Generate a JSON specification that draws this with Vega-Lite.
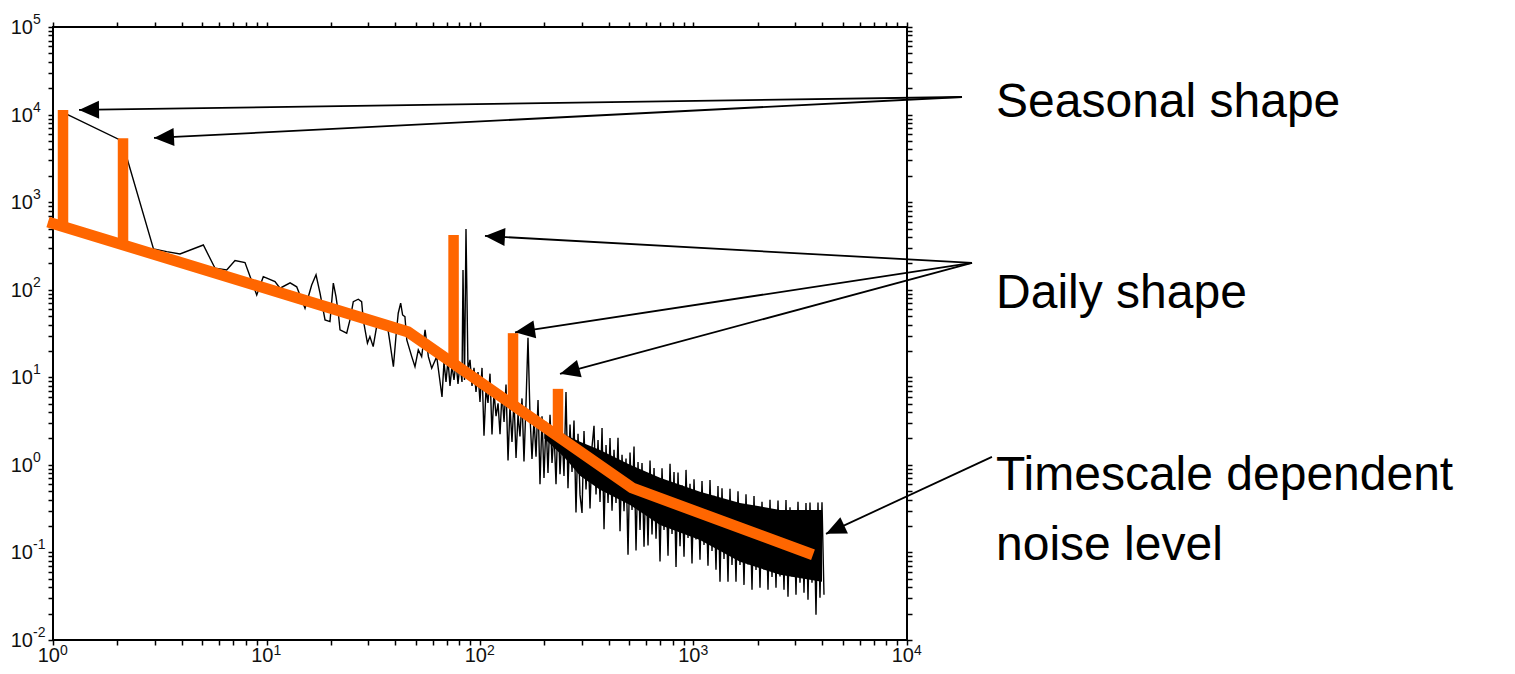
{
  "$schema": "https://vega.github.io/schema/vega-lite/v6.json",
  "width": 854,
  "height": 613,
  "autosize": {"type": "none"},
  "padding": {"left": 53, "top": 27, "right": 608, "bottom": 34},
  "background": "white",
  "config": {
    "view": {"stroke": "black", "strokeWidth": 2},
    "axis": {"labels": false, "domain": false, "grid": false, "title": null, "tickColor": "black", "tickWidth": 1.5}
  },
  "resolve": {"axis": {"x": "independent", "y": "independent"}},
  "datasets": {
    "spec": [
      {"x":1.126,"y":10430},{"x":2.105,"y":5000},{"x":2.956,"y":292},{"x":3.409,"y":272},{"x":3.934,"y":256},
      {"x":5.06,"y":324},{"x":5.74,"y":176},{"x":6.51,"y":168},{"x":7.12,"y":215},{"x":7.93,"y":204},
      {"x":9.0,"y":87.3},{"x":9.66,"y":141},{"x":10.96,"y":124},{"x":11.57,"y":104},{"x":12.9,"y":120},
      {"x":13.85,"y":108},{"x":15.15,"y":61.5},{"x":16.28,"y":113},{"x":17.06,"y":148},{"x":17.81,"y":91.2},
      {"x":18.8,"y":45.2},{"x":19.83,"y":43.2},{"x":20.56,"y":119},{"x":21.16,"y":83.4},{"x":21.7,"y":53.9},
      {"x":22.1,"y":34.8},{"x":23.75,"y":31.9},{"x":24.6,"y":45.2},{"x":25.5,"y":73.1},{"x":26.9,"y":77.9},
      {"x":27.9,"y":73.1},{"x":28.4,"y":45.2},{"x":29.7,"y":24.5},{"x":30.5,"y":29.2},{"x":31.6,"y":22.4},
      {"x":32.8,"y":37.9},{"x":34.0,"y":43.2},{"x":36.6,"y":43.2},{"x":37.9,"y":24.5},{"x":39.3,"y":13.2},
      {"x":40.4,"y":29.2},{"x":41.4,"y":53.9},{"x":42.5,"y":70.2},{"x":43.4,"y":51.5},{"x":44.5,"y":49.3},
      {"x":45.4,"y":26.7},{"x":47.9,"y":17.2},{"x":49.6,"y":13.2},{"x":51.4,"y":20.5},{"x":53.3,"y":17.2},
      {"x":55.3,"y":34.8},{"x":57.3,"y":17.2},{"x":59.4,"y":12.7},{"x":62.7,"y":17.2},{"x":64.5,"y":10.2},
      {"x":66.38,"y":5.97},{"x":67.82,"y":15.0},{"x":69.3,"y":8.86},{"x":70.81,"y":15.8},{"x":72.36,"y":7.98},
      {"x":73.93,"y":13.5},{"x":75.55,"y":9.34},{"x":77.19,"y":15.0},{"x":78.88,"y":8.41},{"x":80.6,"y":14.2},
      {"x":82.36,"y":8.86},{"x":83.25,"y":168},{"x":84.6,"y":9.34},{"x":85.98,"y":494},{"x":87.86,"y":12.1},
      {"x":89.78,"y":15.8},{"x":91.74,"y":7.98},{"x":93.73,"y":12.8},{"x":95.78,"y":6.81},{"x":97.87,"y":11.5},
      {"x":100,"y":5.24},{"x":102.2,"y":12.8},{"x":104.4,"y":2.15},{"x":106.7,"y":7.37},{"x":109.0,"y":5.1},
      {"x":111.4,"y":11.0},{"x":113.8,"y":2.23},{"x":116.3,"y":6.81},{"x":118.9,"y":3.59},{"x":121.5,"y":5.04},
      {"x":124.1,"y":2.24},{"x":126.8,"y":6.69},{"x":129.6,"y":3.09},{"x":132.4,"y":8.28},{"x":135.3,"y":1.12},
      {"x":138.2,"y":4.72},{"x":141.2,"y":1.83},{"x":144.3,"y":5.66},{"x":147.5,"y":1.2},{"x":150.7,"y":3.81},
      {"x":153.9,"y":2.11},{"x":157.3,"y":5.74},{"x":160.7,"y":1.09},{"x":164.2,"y":4.96},{"x":167.8,"y":28.2},
      {"x":171.5,"y":3.63},{"x":175.2,"y":1.17},{"x":179.1,"y":3.35},{"x":183.0,"y":1.24},{"x":187.0,"y":5.5},
      {"x":191.0,"y":0.6},{"x":195.2,"y":3.59},{"x":199.4,"y":0.708},{"x":203.8,"y":3.1},{"x":208.2,"y":0.81},
      {"x":212.8,"y":3.72},{"x":217.4,"y":1.05},{"x":222.2,"y":2.38},{"x":227.0,"y":0.6},{"x":232.0,"y":3.64},
      {"x":237.0,"y":0.78},{"x":242.2,"y":2.38},{"x":247.4,"y":0.745},{"x":252.8,"y":6.81},{"x":258.3,"y":0.54},
      {"x":264.0,"y":2.89},{"x":269.8,"y":0.83},{"x":275.6,"y":3.21},{"x":281.6,"y":0.285},{"x":287.8,"y":2.26},
      {"x":294.1,"y":0.454},{"x":300.5,"y":0.283},{"x":307.0,"y":2.44},{"x":313.7,"y":0.525},{"x":320.6,"y":1.64},
      {"x":327.6,"y":0.318},{"x":334.7,"y":1.6},{"x":342.0,"y":2.79},{"x":349.5,"y":0.458},{"x":357.1,"y":1.92},
      {"x":364.9,"y":0.378},{"x":372.9,"y":2.64},{"x":381.0,"y":0.184},{"x":389.3,"y":1.69},{"x":397.8,"y":0.366},
      {"x":406.4,"y":2.03},{"x":415.3,"y":0.3},{"x":424.3,"y":1.49},{"x":433.6,"y":0.367},{"x":443.0,"y":2.04},
      {"x":452.7,"y":0.175},{"x":462.6,"y":1.3},{"x":472.6,"y":0.296},{"x":482.9,"y":1.18},{"x":493.5,"y":0.094},
      {"x":504.3,"y":1.38},{"x":515.3,"y":0.306},{"x":526.5,"y":1.62},{"x":538.0,"y":0.105},{"x":549.7,"y":1.08},
      {"x":561.7,"y":0.181},{"x":573.9,"y":1.05},{"x":586.5,"y":0.116},{"x":599.2,"y":0.83},{"x":612.3,"y":0.12},
      {"x":625.7,"y":1.12},{"x":639.3,"y":0.16},{"x":653.3,"y":0.92},{"x":667.5,"y":0.143},{"x":682.1,"y":0.71},
      {"x":696.9,"y":0.079},{"x":712.1,"y":0.915},{"x":727.6,"y":0.181},{"x":743.5,"y":0.6},{"x":759.7,"y":0.0915},
      {"x":776.3,"y":1.03},{"x":793.2,"y":0.162},{"x":810.5,"y":0.83},{"x":828.2,"y":0.068},{"x":846.2,"y":0.82},
      {"x":864.7,"y":0.118},{"x":883.5,"y":0.584},{"x":902.8,"y":0.0891},{"x":922.5,"y":0.876},{"x":942.6,"y":0.146},
      {"x":963.0,"y":0.608},{"x":984.0,"y":0.075},{"x":1005.5,"y":0.685},{"x":1027.4,"y":0.141},{"x":1049.8,"y":0.489},
      {"x":1072.6,"y":0.0824},{"x":1096.0,"y":0.655},{"x":1119.9,"y":0.122},{"x":1144.3,"y":0.449},{"x":1169.2,"y":0.0703},
      {"x":1194.8,"y":0.673},{"x":1220.8,"y":0.104},{"x":1247.4,"y":0.443},{"x":1274.6,"y":0.0633},{"x":1302.4,"y":0.575},
      {"x":1330.8,"y":0.0462},{"x":1359.8,"y":0.539},{"x":1389.5,"y":0.084},{"x":1419.7,"y":0.386},{"x":1450.7,"y":0.0462},
      {"x":1482.4,"y":0.532},{"x":1514.7,"y":0.072},{"x":1547.7,"y":0.358},{"x":1581.5,"y":0.0462},{"x":1616.0,"y":0.5},
      {"x":1651.2,"y":0.0718},{"x":1687.2,"y":0.321},{"x":1724.0,"y":0.0426},{"x":1761.6,"y":0.462},{"x":1800.0,"y":0.073},
      {"x":1839.3,"y":0.313},{"x":1879.4,"y":0.0374},{"x":1920.4,"y":0.44},{"x":1962.3,"y":0.063},{"x":2005.1,"y":0.314},
      {"x":2048.7,"y":0.0394},{"x":2093.4,"y":0.38},{"x":2139.1,"y":0.064},{"x":2185.7,"y":0.299},{"x":2233.4,"y":0.0374},
      {"x":2282.0,"y":0.4},{"x":2331.8,"y":0.0525},{"x":2382.6,"y":0.307},{"x":2434.6,"y":0.0394},{"x":2487.7,"y":0.391},
      {"x":2541.8,"y":0.0533},{"x":2597.2,"y":0.275},{"x":2653.9,"y":0.0374},{"x":2711.7,"y":0.398},{"x":2770.8,"y":0.0311},
      {"x":2831.2,"y":0.328},{"x":2892.9,"y":0.053},{"x":2956.0,"y":0.29},{"x":3020.4,"y":0.0328},{"x":3086.3,"y":0.378},
      {"x":3153.6,"y":0.045},{"x":3222.3,"y":0.3},{"x":3292.6,"y":0.0346},{"x":3364.4,"y":0.367},{"x":3437.7,"y":0.0288},
      {"x":3512.7,"y":0.371},{"x":3589.3,"y":0.045},{"x":3667.6,"y":0.29},{"x":3747.5,"y":0.0194},{"x":3829.2,"y":0.371},
      {"x":3912.6,"y":0.0303},{"x":3998.0,"y":0.374},{"x":4085.0,"y":0.0328}
    ],
    "core": [
      {"x":200,"hi":2.4,"lo":2.0},
      {"x":250,"hi":2.2,"lo":1.2},
      {"x":294.1,"hi":1.83,"lo":0.75},
      {"x":364.9,"hi":1.48,"lo":0.518},
      {"x":504.3,"hi":1.0,"lo":0.349},
      {"x":696.9,"hi":0.711,"lo":0.206},
      {"x":1072.6,"hi":0.492,"lo":0.139},
      {"x":1651.2,"hi":0.368,"lo":0.0781},
      {"x":2541.8,"hi":0.306,"lo":0.0555},
      {"x":3998,"hi":0.306,"lo":0.0462}
    ],
    "base": [
      {"x":0.9475,"y":594},{"x":46.0,"y":33.0},{"x":515,"y":0.546},{"x":3628,"y":0.094}
    ],
    "spikes": [
      {"x":1.114,"lo":526,"hi":11290},
      {"x":2.128,"lo":325,"hi":5360},
      {"x":75.2,"lo":14.3,"hi":422},
      {"x":142.8,"lo":4.83,"hi":31.9},
      {"x":231.9,"lo":2.12,"hi":7.38}
    ],
    "arrows": [
      {"id":"s1","x":18100,"y":15880,"x2":1.324,"y2":11290},
      {"id":"s2","x":18100,"y":15880,"x2":2.972,"y2":5408},
      {"id":"d1","x":20160,"y":202.3,"x2":105.5,"y2":411},
      {"id":"d2","x":20160,"y":202.3,"x2":145.9,"y2":32.6},
      {"id":"d3","x":20160,"y":202.3,"x2":237,"y2":10.94},
      {"id":"t","x":25000,"y":1.234,"x2":4175,"y2":0.163}
    ],
    "ann": [
      {"t":"Seasonal shape","x":26120,"y":9390},
      {"t":"Daily shape","x":26120,"y":62.0},
      {"t":"Timescale dependent","x":26120,"y":0.518},
      {"t":"noise level","x":26120,"y":0.0823}
    ],
    "xlab": [
      {"v":1,"e":"0"},{"v":10,"e":"1"},{"v":100,"e":"2"},{"v":1000,"e":"3"},{"v":10000,"e":"4"}
    ],
    "ylab": [
      {"v":0.01,"e":"-2"},{"v":0.1,"e":"-1"},{"v":1,"e":"0"},{"v":10,"e":"1"},{"v":100,"e":"2"},{"v":1000,"e":"3"},{"v":10000,"e":"4"},{"v":100000,"e":"5"}
    ]
  },
  "layer": [
    {
      "data": {"name": "core"},
      "mark": {"type": "area", "color": "black", "opacity": 1},
      "encoding": {
        "x": {"field": "x", "type": "quantitative", "scale": {"type": "log", "domain": [1, 10000], "nice": false}, "axis": null},
        "y": {"field": "lo", "type": "quantitative", "scale": {"type": "log", "domain": [0.01, 100000], "nice": false}, "axis": null},
        "y2": {"field": "hi"}
      }
    },
    {
      "data": {"name": "spec"},
      "mark": {"type": "line", "color": "black", "strokeWidth": 1.4},
      "encoding": {
        "x": {"field": "x", "type": "quantitative", "scale": {"type": "log", "domain": [1, 10000], "nice": false},
          "axis": {"orient": "bottom", "values": [1,2,3,4,5,6,7,8,9,10,20,30,40,50,60,70,80,90,100,200,300,400,500,600,700,800,900,1000,2000,3000,4000,5000,6000,7000,8000,9000,10000],
            "encode": {"ticks": {"update": {"y2": {"signal": "abs(log(datum.value)/LN10 - round(log(datum.value)/LN10)) < 0.001 ? -8 : -5"}}}}}},
        "y": {"field": "y", "type": "quantitative", "scale": {"type": "log", "domain": [0.01, 100000], "nice": false},
          "axis": {"orient": "left", "values": [0.01,0.02,0.03,0.04,0.05,0.06,0.07,0.08,0.09,0.1,0.2,0.3,0.4,0.5,0.6,0.7,0.8,0.9,1,2,3,4,5,6,7,8,9,10,20,30,40,50,60,70,80,90,100,200,300,400,500,600,700,800,900,1000,2000,3000,4000,5000,6000,7000,8000,9000,10000,20000,30000,40000,50000,60000,70000,80000,90000,100000],
            "encode": {"ticks": {"update": {"x2": {"signal": "abs(log(datum.value)/LN10 - round(log(datum.value)/LN10)) < 0.001 ? 8 : 5"}}}}}}
      }
    },
    {
      "data": {"name": "base"},
      "mark": {"type": "line", "color": "#ff6600", "strokeWidth": 11, "strokeCap": "butt", "clip": false},
      "encoding": {
        "x": {"field": "x", "type": "quantitative", "scale": {"type": "log", "domain": [1, 10000], "nice": false},
          "axis": {"orient": "top", "values": [1,2,3,4,5,6,7,8,9,10,20,30,40,50,60,70,80,90,100,200,300,400,500,600,700,800,900,1000,2000,3000,4000,5000,6000,7000,8000,9000,10000],
            "encode": {"ticks": {"update": {"y2": {"signal": "abs(log(datum.value)/LN10 - round(log(datum.value)/LN10)) < 0.001 ? 8 : 5"}}}}}},
        "y": {"field": "y", "type": "quantitative", "scale": {"type": "log", "domain": [0.01, 100000], "nice": false},
          "axis": {"orient": "right", "values": [0.01,0.02,0.03,0.04,0.05,0.06,0.07,0.08,0.09,0.1,0.2,0.3,0.4,0.5,0.6,0.7,0.8,0.9,1,2,3,4,5,6,7,8,9,10,20,30,40,50,60,70,80,90,100,200,300,400,500,600,700,800,900,1000,2000,3000,4000,5000,6000,7000,8000,9000,10000,20000,30000,40000,50000,60000,70000,80000,90000,100000],
            "encode": {"ticks": {"update": {"x2": {"signal": "abs(log(datum.value)/LN10 - round(log(datum.value)/LN10)) < 0.001 ? -8 : -5"}}}}}}
      }
    },
    {
      "data": {"name": "spikes"},
      "mark": {"type": "rule", "color": "#ff6600", "strokeWidth": 10.5, "strokeCap": "butt"},
      "encoding": {
        "x": {"field": "x", "type": "quantitative", "axis": null},
        "y": {"field": "lo", "type": "quantitative", "axis": null},
        "y2": {"field": "hi"}
      }
    },
    {
      "data": {"name": "arrows"},
      "mark": {"type": "rule", "color": "black", "strokeWidth": 1.8, "clip": false},
      "encoding": {
        "x": {"field": "x", "type": "quantitative", "axis": null},
        "y": {"field": "y", "type": "quantitative", "axis": null},
        "x2": {"field": "x2"},
        "y2": {"field": "y2"}
      }
    },
    {
      "data": {"name": "arrows"},
      "transform": [{"filter": "datum.id === 's1'"}],
      "mark": {"type": "point", "shape": "M0,0L-1,-0.45L-1,0.45Z", "filled": true, "color": "black", "opacity": 1, "size": 1600, "angle": 179.2, "clip": false},
      "encoding": {"x": {"field": "x2", "type": "quantitative", "axis": null}, "y": {"field": "y2", "type": "quantitative", "axis": null}}
    },
    {
      "data": {"name": "arrows"},
      "transform": [{"filter": "datum.id === 's2'"}],
      "mark": {"type": "point", "shape": "M0,0L-1,-0.45L-1,0.45Z", "filled": true, "color": "black", "opacity": 1, "size": 1600, "angle": 177.1, "clip": false},
      "encoding": {"x": {"field": "x2", "type": "quantitative", "axis": null}, "y": {"field": "y2", "type": "quantitative", "axis": null}}
    },
    {
      "data": {"name": "arrows"},
      "transform": [{"filter": "datum.id === 'd1'"}],
      "mark": {"type": "point", "shape": "M0,0L-1,-0.45L-1,0.45Z", "filled": true, "color": "black", "opacity": 1, "size": 1600, "angle": 183.2, "clip": false},
      "encoding": {"x": {"field": "x2", "type": "quantitative", "axis": null}, "y": {"field": "y2", "type": "quantitative", "axis": null}}
    },
    {
      "data": {"name": "arrows"},
      "transform": [{"filter": "datum.id === 'd2'"}],
      "mark": {"type": "point", "shape": "M0,0L-1,-0.45L-1,0.45Z", "filled": true, "color": "black", "opacity": 1, "size": 1600, "angle": 171.4, "clip": false},
      "encoding": {"x": {"field": "x2", "type": "quantitative", "axis": null}, "y": {"field": "y2", "type": "quantitative", "axis": null}}
    },
    {
      "data": {"name": "arrows"},
      "transform": [{"filter": "datum.id === 'd3'"}],
      "mark": {"type": "point", "shape": "M0,0L-1,-0.45L-1,0.45Z", "filled": true, "color": "black", "opacity": 1, "size": 1600, "angle": 164.9, "clip": false},
      "encoding": {"x": {"field": "x2", "type": "quantitative", "axis": null}, "y": {"field": "y2", "type": "quantitative", "axis": null}}
    },
    {
      "data": {"name": "arrows"},
      "transform": [{"filter": "datum.id === 't'"}],
      "mark": {"type": "point", "shape": "M0,0L-1,-0.45L-1,0.45Z", "filled": true, "color": "black", "opacity": 1, "size": 1600, "angle": 155.1, "clip": false},
      "encoding": {"x": {"field": "x2", "type": "quantitative", "axis": null}, "y": {"field": "y2", "type": "quantitative", "axis": null}}
    },
    {
      "data": {"name": "ann"},
      "mark": {"type": "text", "align": "left", "baseline": "alphabetic", "fontSize": 48, "font": "Liberation Sans", "color": "black", "clip": false},
      "encoding": {
        "x": {"field": "x", "type": "quantitative", "axis": null},
        "y": {"field": "y", "type": "quantitative", "axis": null},
        "text": {"field": "t"}
      }
    },
    {
      "data": {"name": "xlab"},
      "mark": {"type": "text", "align": "right", "baseline": "top", "dx": 7, "dy": 6, "fontSize": 20, "font": "Liberation Sans", "color": "#111"},
      "encoding": {
        "x": {"field": "v", "type": "quantitative", "axis": null},
        "y": {"datum": 0.01, "type": "quantitative", "axis": null},
        "text": {"value": "10"}
      }
    },
    {
      "data": {"name": "xlab"},
      "mark": {"type": "text", "align": "left", "baseline": "top", "dx": 7, "dy": 4, "fontSize": 14, "font": "Liberation Sans", "color": "#111"},
      "encoding": {
        "x": {"field": "v", "type": "quantitative", "axis": null},
        "y": {"datum": 0.01, "type": "quantitative", "axis": null},
        "text": {"field": "e"}
      }
    },
    {
      "data": {"name": "ylab"},
      "mark": {"type": "text", "align": "right", "baseline": "middle", "dx": -20, "dy": 1, "fontSize": 20, "font": "Liberation Sans", "color": "#111"},
      "encoding": {
        "x": {"datum": 1, "type": "quantitative", "axis": null},
        "y": {"field": "v", "type": "quantitative", "axis": null},
        "text": {"value": "10"}
      }
    },
    {
      "data": {"name": "ylab"},
      "mark": {"type": "text", "align": "left", "baseline": "top", "dx": -20, "dy": -14, "fontSize": 14, "font": "Liberation Sans", "color": "#111"},
      "encoding": {
        "x": {"datum": 1, "type": "quantitative", "axis": null},
        "y": {"field": "v", "type": "quantitative", "axis": null},
        "text": {"field": "e"}
      }
    }
  ]
}
